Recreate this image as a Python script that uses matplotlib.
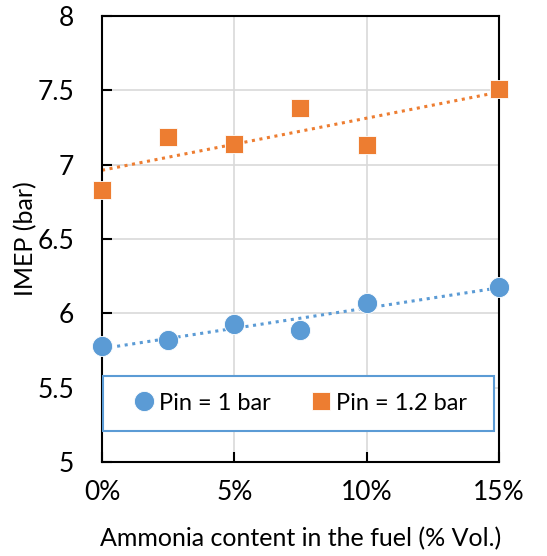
import matplotlib
matplotlib.use("Agg")
import matplotlib.pyplot as plt
import numpy as np
from matplotlib.patches import Rectangle
from matplotlib.ticker import FuncFormatter

plt.rcParams["font.family"] = ["Lato", "DejaVu Sans"]

AMMONIA_PCT = [0, 2.5, 5, 7.5, 10, 15]
IMEP_PIN_1 = [5.78, 5.82, 5.93, 5.89, 6.07, 6.18]
IMEP_PIN_12 = [6.83, 7.19, 7.14, 7.38, 7.13, 7.51]

BLUE = "#5B9BD5"
ORANGE = "#ED7D31"
FONT_SIZE = 19


def main() -> None:
    fig = plt.figure(figsize=(5.47, 5.56), dpi=100)
    ax = fig.add_axes([0.1865, 0.169, 0.7255, 0.802])

    x = np.asarray(AMMONIA_PCT, dtype=float)
    xfit = np.array([0.0, 15.0])
    for ys, color, marker, size, label in (
        (IMEP_PIN_1, BLUE, "o", 14.5, "Pin = 1 bar"),
        (IMEP_PIN_12, ORANGE, "s", 12.5, "Pin = 1.2 bar"),
    ):
        coef = np.polyfit(x, ys, 1)
        ax.plot(xfit, np.polyval(coef, xfit), linestyle=(0, (1, 1.5)), color=color,
                linewidth=2.2, zorder=2)
        ax.plot(x, ys, linestyle="none", marker=marker, markersize=size, color=color,
                markeredgecolor="white", markeredgewidth=0.6, label=label, zorder=3,
                clip_on=False)

    ax.set_xlim(0, 15)
    ax.set_ylim(5, 8)
    ax.set_xticks([0, 5, 10, 15])
    ax.set_yticks([5, 5.5, 6, 6.5, 7, 7.5, 8])
    ax.xaxis.set_major_formatter(FuncFormatter(lambda v, _: f"{v:.0f}%"))
    ax.yaxis.set_major_formatter(FuncFormatter(lambda v, _: f"{v:g}"))
    ax.tick_params(axis="both", direction="in", length=7, width=1.5,
                   labelsize=FONT_SIZE, colors="black")
    ax.tick_params(axis="x", pad=13)
    ax.tick_params(axis="y", pad=20)
    ax.grid(True, color="#D9D9D9", linewidth=1.2)
    ax.set_axisbelow(True)
    for spine in ax.spines.values():
        spine.set_linewidth(1.5)
        spine.set_color("black")

    ax.set_xlabel("Ammonia content in the fuel (% Vol.)", fontsize=18, labelpad=16)
    ax.set_ylabel("IMEP (bar)", fontsize=18, labelpad=0)

    # legend box spanning nearly the full plot width
    ax.add_patch(Rectangle((0.003, 0.07), 0.984, 0.124, transform=ax.transAxes,
                           facecolor="white", edgecolor=BLUE, linewidth=1.5, zorder=4))
    leg = ax.legend(loc="center", bbox_to_anchor=(0.003, 0.07, 0.984, 0.124), ncol=2,
                    fontsize=17, frameon=False, handletextpad=0.05,
                    borderaxespad=0, columnspacing=1.5, handlelength=1.2)
    leg.set_zorder(5)

    fig.savefig("out.png", dpi=100)


if __name__ == "__main__":
    main()
